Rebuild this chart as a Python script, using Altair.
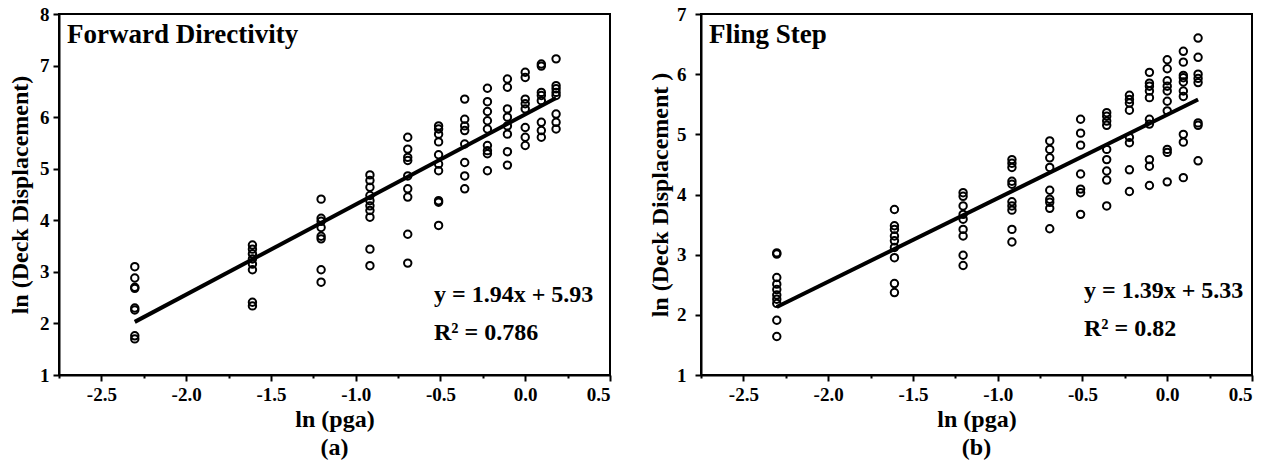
import altair as alt
import pandas as pd

# ln(pga) columns (pga = 0.1 ... 1.2 g)
ln_pga = [-2.303, -1.609, -1.204, -0.916, -0.693, -0.511, -0.357, -0.223, -0.105, 0.0, 0.095, 0.182]

# Forward Directivity: ln(deck displacement) per ln(pga) column
fd_disp = [
    [3.10, 2.88, 2.70, 2.68, 2.30, 2.26, 1.76, 1.70],
    [3.52, 3.44, 3.35, 3.25, 3.15, 3.04, 2.41, 2.34],
    [4.41, 4.04, 3.98, 3.86, 3.69, 3.64, 3.04, 2.80],
    [4.88, 4.77, 4.64, 4.48, 4.38, 4.28, 4.19, 4.06, 3.44, 3.12],
    [5.61, 5.38, 5.22, 5.16, 4.86, 4.61, 4.45, 3.73, 3.17],
    [5.83, 5.77, 5.67, 5.52, 5.27, 5.09, 4.96, 4.38, 4.35, 3.90],
    [6.35, 5.96, 5.83, 5.74, 5.48, 5.12, 4.86, 4.61],
    [6.56, 6.30, 6.11, 5.93, 5.77, 5.45, 5.35, 5.29, 4.96],
    [6.74, 6.58, 6.16, 6.00, 5.83, 5.67, 5.33, 5.07],
    [6.87, 6.77, 6.35, 6.26, 6.16, 5.80, 5.61, 5.45],
    [7.03, 6.99, 6.48, 6.42, 6.32, 5.90, 5.74, 5.61],
    [7.13, 6.61, 6.55, 6.48, 6.42, 6.06, 5.90, 5.77],
]

# Fling Step
fs_disp = [
    [3.03, 3.01, 2.62, 2.51, 2.42, 2.33, 2.26, 2.19, 1.91, 1.64],
    [3.75, 3.48, 3.42, 3.31, 3.23, 3.12, 2.95, 2.52, 2.37],
    [4.03, 3.97, 3.81, 3.67, 3.59, 3.42, 3.31, 2.99, 2.82],
    [4.58, 4.52, 4.45, 4.22, 4.17, 3.88, 3.81, 3.74, 3.42, 3.21],
    [4.89, 4.75, 4.61, 4.45, 4.07, 3.92, 3.87, 3.77, 3.43],
    [5.25, 5.02, 4.82, 4.34, 4.09, 4.03, 3.67],
    [5.36, 5.30, 5.22, 5.15, 4.75, 4.58, 4.39, 4.24, 3.81],
    [5.65, 5.58, 5.52, 5.40, 4.95, 4.86, 4.41, 4.05],
    [6.03, 5.85, 5.80, 5.72, 5.61, 5.25, 5.17, 4.58, 4.47, 4.15],
    [6.24, 6.09, 5.89, 5.80, 5.72, 5.55, 5.39, 4.75, 4.70, 4.21],
    [6.38, 6.20, 5.98, 5.94, 5.87, 5.72, 5.63, 5.00, 4.87, 4.28],
    [6.60, 6.28, 6.00, 5.93, 5.86, 5.19, 5.15, 4.56],
]

# fitted lines (end points)
fit_x = [-2.303, 0.182]
fd_fit = [2.03, 6.37]
fs_fit = [2.13, 5.58]

x_ticks = [-2.75, -2.5, -2.25, -2.0, -1.75, -1.5, -1.25, -1.0, -0.75, -0.5, -0.25, 0.0, 0.25, 0.5]
fd_y_ticks = [1, 1.5, 2, 2.5, 3, 3.5, 4, 4.5, 5, 5.5, 6, 6.5, 7, 7.5, 8]
fs_y_ticks = [1, 1.5, 2, 2.5, 3, 3.5, 4, 4.5, 5, 5.5, 6, 6.5, 7]

FONT = "Liberation Serif"

minor_size = {"condition": {"test": "abs(datum.value * 2 - round(datum.value * 2)) > 0.01", "value": 3}, "value": 6}
minor_size_y = {"condition": {"test": "abs(datum.value - round(datum.value)) > 0.01", "value": 3}, "value": 6}


def panel(disp, fit, y_ticks, ymax, label, eq, r2, ytitle, sub, eq_x, eq_y, ylab_pad, ytitle_pad):
    pts = pd.DataFrame([(x, v) for x, col in zip(ln_pga, disp) for v in col], columns=["x", "y"])
    line = pd.DataFrame({"x": fit_x, "y": fit})

    xenc = alt.X(
        "x:Q",
        scale=alt.Scale(domain=[-2.75, 0.5], nice=False, zero=False),
        axis=alt.Axis(
            values=x_ticks,
            title="ln (pga)",
            labelExpr="abs(datum.value * 2 - round(datum.value * 2)) > 0.01 ? '' : replace(format(datum.value, '.1f'), '\u2212', '-')",
            tickSize=minor_size,
            labelPadding=4,
            titlePadding=3,
        ),
    )
    yenc = alt.Y(
        "y:Q",
        scale=alt.Scale(domain=[1, ymax], nice=False, zero=False),
        axis=alt.Axis(
            values=y_ticks,
            title=ytitle,
            labelExpr="abs(datum.value - round(datum.value)) > 0.01 ? '' : format(datum.value, 'd')",
            tickSize=minor_size_y,
            labelPadding=ylab_pad,
            titlePadding=ytitle_pad,
        ),
    )

    points = alt.Chart(pts).mark_point(
        shape="circle", filled=False, color="black", size=55, strokeWidth=2, opacity=1
    ).encode(x=xenc, y=yenc)

    fitline = alt.Chart(line).mark_line(color="black", strokeWidth=4).encode(x="x:Q", y="y:Q")

    name = alt.Chart(pd.DataFrame({"t": [label]})).mark_text(
        font=FONT, fontWeight="bold", fontSize=27, align="left", baseline="middle", color="black"
    ).encode(text="t:N", x=alt.value(8), y=alt.value(21))

    eq_t = alt.Chart(pd.DataFrame({"t": [eq]})).mark_text(
        font=FONT, fontWeight="bold", fontSize=24, align="left", baseline="middle", color="black"
    ).encode(text="t:N", x=alt.value(eq_x), y=alt.value(eq_y))

    r2_t = alt.Chart(pd.DataFrame({"t": [r2]})).mark_text(
        font=FONT, fontWeight="bold", fontSize=24, align="left", baseline="middle", color="black"
    ).encode(text="t:N", x=alt.value(eq_x), y=alt.value(eq_y + 38))

    return alt.layer(points, fitline, name, eq_t, r2_t).properties(
        width=551,
        height=361,
        title=alt.Title(sub, orient="bottom", font=FONT, fontSize=24, fontWeight="bold", offset=5, color="black"),
    )


left = panel(fd_disp, fd_fit, fd_y_ticks, 8, "Forward Directivity", "y = 1.94x + 5.93",
             "R\u00b2 = 0.786", "ln (Deck Displacement)", "(a)", 375, 281, 4, 7)
right = panel(fs_disp, fs_fit, fs_y_ticks, 7, "Fling Step", "y = 1.39x + 5.33",
              "R\u00b2 = 0.82", "ln (Deck Displacement )", "(b)", 383, 277, 9, 4)

chart = alt.hconcat(left, right, spacing=91, bounds="flush").properties(
    padding={"left": 7, "top": 4, "right": 5, "bottom": 5}
).configure(background="white").configure_view(
    stroke="black", strokeWidth=2
).configure_axis(
    domainColor="black", domainWidth=2, tickColor="black", tickWidth=2,
    labelFont=FONT, labelFontSize=19, labelFontWeight="bold", labelColor="black",
    titleFont=FONT, titleFontSize=24, titleFontWeight="bold", titleColor="black",
    grid=False,
)

chart.save("out.html", embed_options={"renderer": "svg", "actions": False})
